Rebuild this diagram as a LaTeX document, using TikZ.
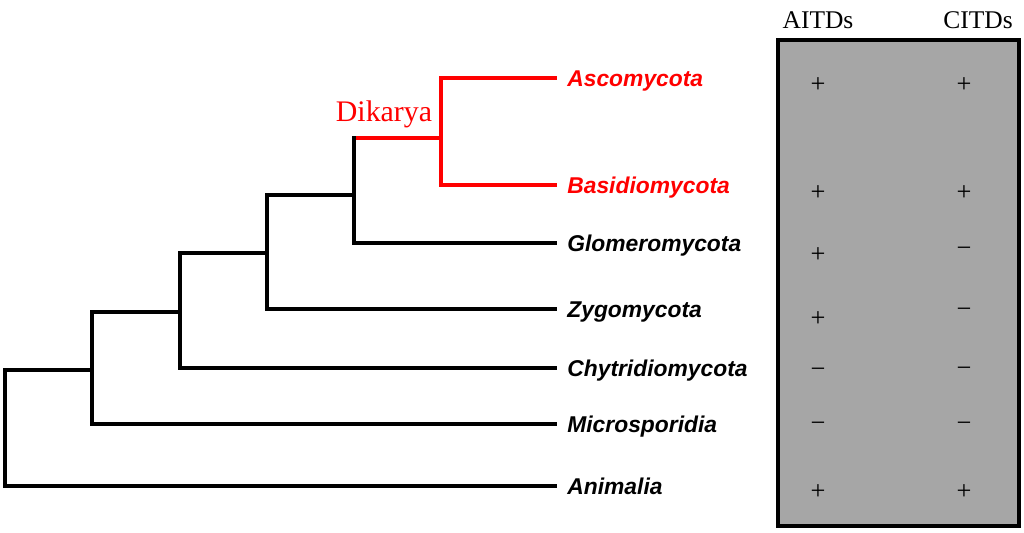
\documentclass[tikz,border=0pt]{standalone}
\usepackage{fontspec}
\setmainfont{Liberation Serif}
\newfontfamily\arialfont{Liberation Sans}
\definecolor{boxgray}{HTML}{A6A6A6}
\tikzset{
  branch/.style={line width=1.8pt, line cap=rect},
  dikbranch/.style={branch, color=red},
  taxon/.style={anchor=west, inner xsep=0.24cm, inner ysep=0pt, text height=9.2pt, text depth=0pt,
    font=\arialfont\fontsize{13}{15}\selectfont\bfseries\itshape},
  sign/.style={inner sep=0pt, text height=11.6pt, text depth=0pt, font=\fontsize{15}{18}\selectfont},
  head/.style={inner sep=0pt, font=\fontsize{14.5}{17}\selectfont}
}

\begin{document}
\begin{tikzpicture}[x=0.02cm, y=-0.02cm]
			%%%%% START %%%%%
			\useasboundingbox (0, 0) rectangle (1024, 532);
			
			% taxa
			\node[taxon, color=red] (asco) at (555, 78) {Ascomycota};
			\node[taxon, color=red] (basi) at (555, 185) {Basidiomycota};
			\node[taxon] (glom) at (555, 243) {Glomeromycota};
			\node[taxon] (zygo) at (555, 309) {Zygomycota};
			\node[taxon] (chyt) at (555, 368) {Chytridiomycota};
			\node[taxon] (micro) at (555, 424) {Microsporidia};
			\node[taxon] (anim) at (555, 486) {Animalia};
			
			% inner nodes of the tree
			\coordinate (r0) at (5, 428);
			\coordinate (n1) at (92, 370);
			\coordinate (n2) at (180, 312);
			\coordinate (n3) at (267, 253);
			\coordinate (n4) at (354, 195);
			\coordinate (dik) at (441, 138);
			
			\draw[dikbranch] (asco.west) -| (dik) |- (basi.west);
			\draw[dikbranch] (dik) -- (n4 |- dik);
			\draw[branch] (n4 |- dik) -- (n4) |- (glom.west);
			\draw[branch] (n4) -| (n3) |- (zygo.west);
			\draw[branch] (n3) -| (n2) |- (chyt.west);
			\draw[branch] (n2) -| (n1) |- (micro.west);
			\draw[branch] (n1) -| (r0) |- (anim.west);
			
			\node[color=red, inner sep=0pt, font=\fontsize{17}{20}\selectfont] (dikl) at (384, 114) {Dikarya};
			
			% table on the right
			\draw[line width=2.3pt, fill=boxgray] (778, 40) rectangle (1019, 526);
			\node[head] (aitd) at (818, 20) {AITDs};
			\node[head] (citd) at (978, 20) {CITDs};
			
			\foreach \ya/\yc/\sa/\sc [count=\k] in {82/82/+/+, 190/190/+/+, 252/246/+/−, 316/307/+/−,
			    367/366/−/−, 421/421/−/−, 489/489/+/+}{
				\node[sign] (a\k) at (818, \ya) {\sa};
				\node[sign] (c\k) at (964, \yc) {\sc};
			}
			
			%%%%% END %%%%%
\end{tikzpicture}
\end{document}
